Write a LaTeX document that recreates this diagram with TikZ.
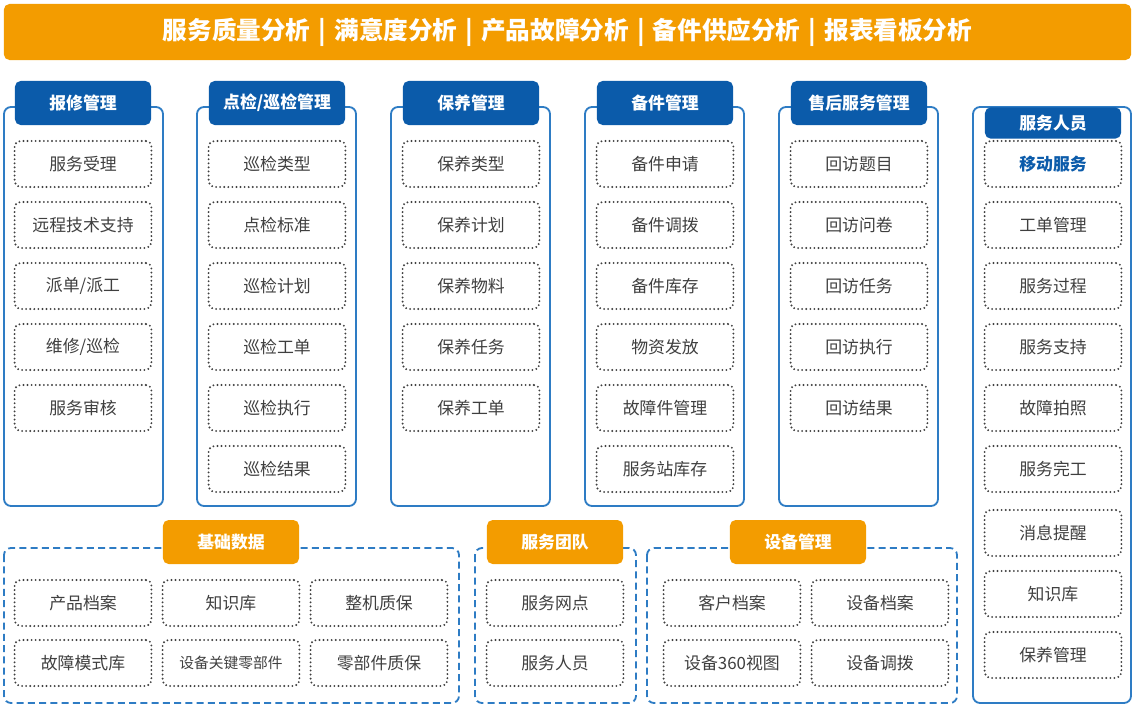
\documentclass[tikz,border=0pt]{standalone}
\usepackage{fontspec}
\setmainfont{Noto Sans CJK SC}
\usetikzlibrary{positioning}
\definecolor{bannerorange}{HTML}{F39C00}
\definecolor{tabblue}{HTML}{0B5BAA}
\definecolor{lineblue}{HTML}{2E7CC4}
\definecolor{cellgray}{HTML}{3F3F3F}

\begin{document}
\begin{tikzpicture}[x=0.025cm, y=-0.025cm,
   banner/.style={fill=bannerorange, rounded corners=4pt, text=white,
                  font=\bfseries\fontsize{17.5}{20}\selectfont,
                  minimum width=28.175cm, minimum height=1.4cm, inner sep=0pt,
                  text height=1.05em, text depth=0.05em},
   tab/.style={fill=tabblue, rounded corners=4pt, text=white,
               font=\bfseries\fontsize{12}{14}\selectfont,
               minimum width=3.4cm, minimum height=1.1cm, inner sep=0pt},
   grouptab/.style={tab, fill=bannerorange},
   col/.style={draw=lineblue, line width=1.3pt, rounded corners=5pt},
   group/.style={draw=lineblue, line width=1.3pt, dash pattern=on 5pt off 3pt,
                 rounded corners=5pt},
   cell/.style={draw=cellgray, line width=1.5pt, dash pattern=on 0pt off 2.9pt,
                line cap=round, rounded corners=4pt, text=cellgray,
                font=\fontsize{12}{14}\selectfont,
                minimum width=3.42cm, minimum height=1.15cm, inner sep=0pt}]
\useasboundingbox (0,0) rectangle (1135,709);

\node[banner] (top) at (567.5,32)
  {服务质量分析\hspace{0.33em}|\hspace{0.33em}满意度分析\hspace{0.33em}|\hspace{0.33em}产品故障分析\hspace{0.33em}|\hspace{0.33em}备件供应分析\hspace{0.33em}|\hspace{0.33em}报表看板分析};

% module columns
\foreach \x in {4,197,391,585,779}
  \draw[col] (\x,107) rectangle ++(159,399);
\draw[col] (973,107) rectangle (1131,703);

\node[tab] (repair) at (83,103) {报修管理};
\node[tab] (inspect) at (277,103) {点检/巡检管理};
\node[tab] (maint) at (471,103) {保养管理};
\node[tab] (parts) at (665,103) {备件管理};
\node[tab] (after) at (859,103) {售后服务管理};
\node[tab, minimum height=0.78cm] (staff) at (1053,123) {服务人员};

\foreach \t [count=\i] in {服务受理,远程技术支持,派单/派工,维修/巡检,服务审核}
  \node[cell] (repair-\i) at (83,{103+61*\i}) {\t};
\foreach \t [count=\i] in {巡检类型,点检标准,巡检计划,巡检工单,巡检执行,巡检结果}
  \node[cell] (inspect-\i) at (277,{103+61*\i}) {\t};
\foreach \t [count=\i] in {保养类型,保养计划,保养物料,保养任务,保养工单}
  \node[cell] (maint-\i) at (471,{103+61*\i}) {\t};
\foreach \t [count=\i] in {备件申请,备件调拨,备件库存,物资发放,故障件管理,服务站库存}
  \node[cell] (parts-\i) at (665,{103+61*\i}) {\t};
\foreach \t [count=\i] in {回访题目,回访问卷,回访任务,回访执行,回访结果}
  \node[cell] (after-\i) at (859,{103+61*\i}) {\t};

% service staff
\node[cell, text=tabblue, font=\bfseries\fontsize{12}{14}\selectfont] (staff-1) at (1053,164) {移动服务};
\foreach \t/\y [count=\i from 2] in {工单管理/225,服务过程/286,服务支持/347,故障拍照/408,服务完工/469,消息提醒/533,知识库/594,保养管理/655}
  \node[cell] (staff-\i) at (1053,\y) {\t};

% bottom groups
\draw[group] (4,548) rectangle (459,703);
\draw[group] (475,548) rectangle (636,703);
\draw[group] (647,548) rectangle (957,703);
\node[grouptab] (base) at (231,542) {基础数据};
\node[grouptab] (team) at (555,542) {服务团队};
\node[grouptab] (equip) at (798,542) {设备管理};

\foreach \t/\x/\y [count=\i] in {产品档案/83/603,知识库/231/603,整机质保/379/603,故障模式库/83/663,零部件质保/379/663}
  \node[cell] (base-\i) at (\x,\y) {\t};
\node[cell, font=\fontsize{10.5}{12}\selectfont] (base-6) at (231,663) {设备关键零部件};
\node[cell] (team-1) at (555,603) {服务网点};
\node[cell] (team-2) at (555,663) {服务人员};
\foreach \t/\x/\y [count=\i] in {客户档案/732/603,设备档案/880/603,设备360视图/732/663,设备调拨/880/663}
  \node[cell] (equip-\i) at (\x,\y) {\t};
\end{tikzpicture}
\end{document}
